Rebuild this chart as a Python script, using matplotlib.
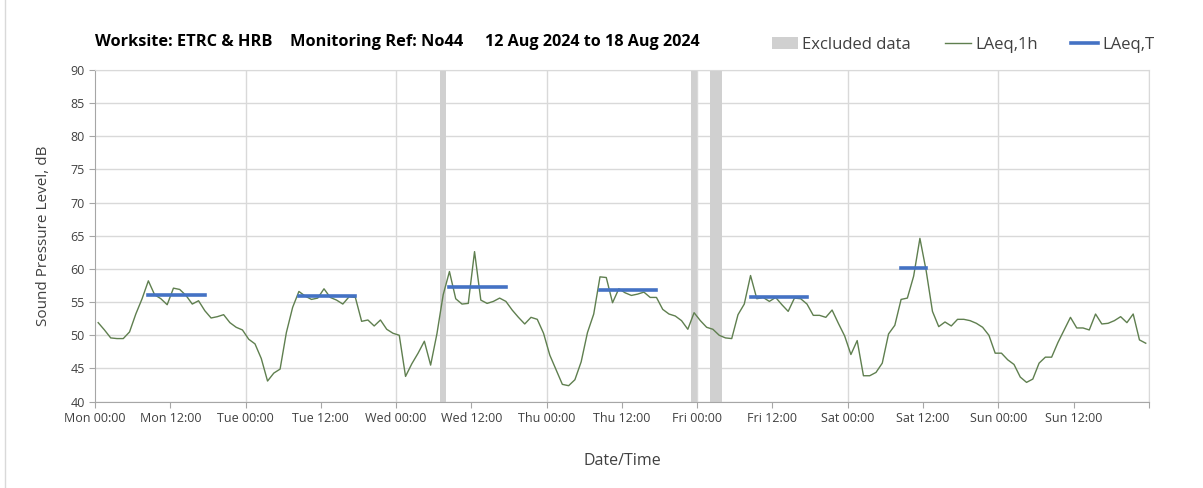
import numpy as np
import matplotlib
matplotlib.use("Agg")
import matplotlib.pyplot as plt
from matplotlib.patches import Patch
from matplotlib.lines import Line2D

plt.rcParams['font.family'] = ['Open Sans', 'DejaVu Sans']

# hourly LAeq,1h values, Mon 00:00 -> Sun 23:00
laeq_1h = [
    51.9, 50.8, 49.6, 49.5, 49.5, 50.5, 53.2, 55.5, 58.2, 56.1,
    55.5, 54.6, 57.1, 56.9, 56.0, 54.7, 55.2, 53.7, 52.6, 52.8,
    53.1, 51.9, 51.2, 50.8, 49.4, 48.7, 46.5, 43.1, 44.3, 44.9,
    50.4, 54.2, 56.6, 55.9, 55.4, 55.6, 57.0, 55.7, 55.3, 54.7,
    55.8, 55.7, 52.1, 52.3, 51.4, 52.3, 50.9, 50.3, 50.0, 43.8,
    45.7, 47.3, 49.1, 45.5, 50.2, 56.1, 59.6, 55.5, 54.7, 54.8,
    62.6, 55.3, 54.8, 55.1, 55.6, 55.1, 53.8, 52.7, 51.7, 52.7,
    52.4, 50.3, 47.0, 44.8, 42.6, 42.4, 43.3, 46.0, 50.4, 53.2,
    58.8, 58.7, 54.9, 57.0, 56.4, 56.0, 56.2, 56.5, 55.7, 55.7,
    53.9, 53.2, 52.9, 52.2, 50.9, 53.4, 52.2, 51.2, 50.9, 50.0,
    49.6, 49.5, 53.1, 54.7, 59.0, 55.5, 55.7, 55.1, 55.7, 54.6,
    53.6, 55.6, 55.5, 54.7, 53.0, 53.0, 52.7, 53.8, 51.8, 49.9,
    47.1, 49.2, 43.9, 43.9, 44.4, 45.8, 50.2, 51.5, 55.4, 55.6,
    58.9, 64.6, 59.7, 53.6, 51.3, 52.0, 51.4, 52.4, 52.4, 52.2,
    51.8, 51.2, 50.0, 47.3, 47.3, 46.3, 45.6, 43.7, 42.9, 43.4,
    45.8, 46.7, 46.7, 48.9, 50.8, 52.7, 51.1, 51.1, 50.8, 53.2,
    51.7, 51.8, 52.2, 52.8, 51.9, 53.2, 49.3, 48.8,
]

# LAeq,T periods (start hour, end hour, level)
period_start = [8, 32, 56, 80, 104, 128]
period_end = [18, 42, 66, 90, 114, 133]
period_level = [56.0, 55.9, 57.3, 56.8, 55.7, 60.2]

# excluded hours (start hour, number of hours)
excl_start = [55, 95, 98]
excl_hours = [1, 1, 2]

tick_labels = ['Mon 00:00', 'Mon 12:00', 'Tue 00:00', 'Tue 12:00', 'Wed 00:00',
               'Wed 12:00', 'Thu 00:00', 'Thu 12:00', 'Fri 00:00', 'Fri 12:00',
               'Sat 00:00', 'Sat 12:00', 'Sun 00:00', 'Sun 12:00', '']

green = '#5f7f4f'
blue = '#4472c4'
band = '#d0d0d0'
grid = '#d9d9d9'
axis_col = '#a6a6a6'

fig = plt.figure(figsize=(12.03, 4.88), dpi=100)
ax = fig.add_axes([0.079, 0.177, 0.876, 0.680])

hours = np.arange(len(laeq_1h)) + 0.5

for s, n in zip(excl_start, excl_hours):
    ax.axvspan(s, s + n, color=band, lw=0, zorder=1)

for d in range(24, 169, 24):
    ax.axvline(d, color=grid, lw=1, zorder=0)

ax.plot(hours, laeq_1h, color=green, lw=1.0, zorder=3)

for s, e, v in zip(period_start, period_end, period_level):
    ax.plot([s + 0.5, e - 0.5], [v, v], color=blue, lw=2.6,
            solid_capstyle='projecting', zorder=4)

ax.set_xlim(0, 168)
ax.set_ylim(40, 90)
ax.set_yticks(range(40, 91, 5))
ax.set_xticks(range(0, 169, 12))
ax.set_xticklabels(tick_labels)
ax.yaxis.grid(True, color=grid, lw=1, zorder=0)
ax.set_axisbelow(True)

ax.tick_params(axis='both', colors=axis_col, labelcolor='#404040',
               labelsize=9, length=4, direction='out')
for side in ['left', 'bottom']:
    ax.spines[side].set_color(axis_col)
for side in ['top', 'right']:
    ax.spines[side].set_color(grid)

ax.set_xlabel('Date/Time', fontsize=11.5, color='#404040', labelpad=20)
ax.set_ylabel('Sound Pressure Level, dB', fontsize=11, color='#404040', labelpad=14)

# title pieces
title_y = 1 - 42 / 488
fig.text(95 / 1203, title_y, 'Worksite: ETRC & HRB', fontsize=11.8,
         fontweight='bold', va='center', ha='left')
fig.text(290 / 1203, title_y, 'Monitoring Ref: No44', fontsize=11.8,
         fontweight='bold', va='center', ha='left')
fig.text(485 / 1203, title_y, '12 Aug 2024 to 18 Aug 2024', fontsize=11.6,
         fontweight='bold', va='center', ha='left')

handles = [Patch(facecolor=band, edgecolor='none', label='Excluded data'),
           Line2D([0], [0], color=green, lw=1.0, label='LAeq,1h'),
           Line2D([0], [0], color=blue, lw=2.6, label='LAeq,T')]
fig.legend(handles=handles, loc='center right', bbox_to_anchor=(0.972, 1 - 45 / 488),
           ncol=3, frameon=False, fontsize=12, handlelength=1.6,
           handletextpad=0.25, columnspacing=2.0, labelcolor='#404040')

fig.add_artist(Line2D([5 / 1203, 5 / 1203], [0, 1], color=grid, lw=1))

fig.savefig('out.png', dpi=100)
